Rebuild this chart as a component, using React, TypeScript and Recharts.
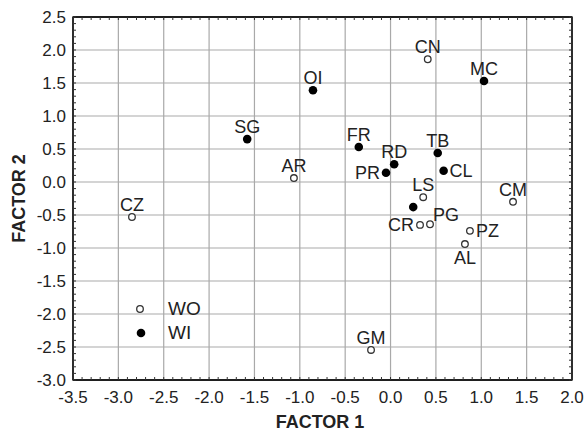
import { CartesianGrid, Label, ReferenceArea, Scatter, ScatterChart, XAxis, YAxis } from "recharts";

// WI (filled) points
const wiNames = ["OI", "MC", "SG", "FR", "RD", "PR", "TB", "CL", ""];
const wiX = [-0.855, 1.03, -1.58, -0.35, 0.04, -0.05, 0.52, 0.585, 0.25];
const wiY = [1.39, 1.53, 0.65, 0.53, 0.27, 0.14, 0.44, 0.17, -0.38];

// WO (open) points
const woNames = ["CN", "AR", "LS", "CM", "CR", "PG", "PZ", "AL", "GM", "CZ"];
const woX = [0.41, -1.065, 0.36, 1.35, 0.325, 0.435, 0.875, 0.82, -0.215, -2.85];
const woY = [1.86, 0.06, -0.23, -0.3, -0.65, -0.64, -0.74, -0.94, -2.545, -0.53];

const xTicks = [-3.5, -3.0, -2.5, -2.0, -1.5, -1.0, -0.5, 0.0, 0.5, 1.0, 1.5, 2.0];
const yTicks = [-3.0, -2.5, -2.0, -1.5, -1.0, -0.5, 0.0, 0.5, 1.0, 1.5, 2.0, 2.5];

// where each name sits relative to its marker
const labelSide: Record<string, string> = {
	PR: "left",
	CR: "left",
	CL: "right",
	PZ: "right",
	AL: "bottom",
	PG: "topright",
};

const FONT = '"Liberation Sans", Arial, sans-serif';
const INK = "#222";

const minor = (from: number, to: number) => {
	const out: number[] = [];
	for (let i = Math.round(from * 10); i <= Math.round(to * 10); i++) out.push(i / 10);
	return out;
};
const xMinor = minor(-3.5, 2.0);
const yMinor = minor(-3.0, 2.5);
const isMajor = (v: number) => Math.abs(v * 2 - Math.round(v * 2)) < 1e-6;

const toPoints = (names: string[], xs: number[], ys: number[]) =>
	names.map((name, i) => ({ name, x: xs[i], y: ys[i] }));

const wiData = toPoints(wiNames, wiX, wiY);
const woData = toPoints(woNames, woX, woY);

const PointLabel = ({ cx, cy, name }: any) => {
	if (!name) return null;
	const side = labelSide[name] || "top";
	let x = cx;
	let y = cy - 6;
	let anchor: any = "middle";
	if (side === "left") {
		x = cx - 6;
		y = cy + 6.5;
		anchor = "end";
	} else if (side === "right") {
		x = cx + 6;
		y = cy + 6.5;
		anchor = "start";
	} else if (side === "bottom") {
		y = cy + 20;
	} else if (side === "topright") {
		x = cx + 3;
		y = cy - 3;
		anchor = "start";
	}
	return (
		<text x={x} y={y} textAnchor={anchor} fontFamily={FONT} fontSize={18} fill={INK}>
			{name}
		</text>
	);
};

const FilledDot = (props: any) => (
	<g>
		<circle cx={props.cx} cy={props.cy} r={4.3} fill="#000" />
		<PointLabel cx={props.cx} cy={props.cy} name={props.payload.name} />
	</g>
);

const OpenDot = (props: any) => (
	<g>
		<circle cx={props.cx} cy={props.cy} r={3.3} fill="#fff" stroke="#333" strokeWidth={1.3} />
		<PointLabel cx={props.cx} cy={props.cy} name={props.payload.name} />
	</g>
);

const NoDot = () => <g />;

// ticks: small inward marks every 0.1, labels on the 0.5 steps
const BottomTick = ({ x, y, payload }: any) => (
	<g>
		<line x1={x} x2={x} y1={y} y2={y - 3} stroke="#333" />
		{isMajor(payload.value) && (
			<text x={x} y={y + 11} dy="0.71em" textAnchor="middle" fontFamily={FONT} fontSize={17} fill={INK}>
				{payload.value.toFixed(1)}
			</text>
		)}
	</g>
);
const LeftTick = ({ x, y, payload }: any) => (
	<g>
		<line x1={x} x2={x + 3} y1={y} y2={y} stroke="#333" />
		{isMajor(payload.value) && (
			<text x={x - 7} y={y} dy="0.36em" textAnchor="end" fontFamily={FONT} fontSize={17} fill={INK}>
				{payload.value.toFixed(1)}
			</text>
		)}
	</g>
);
const TopTick = ({ x, y }: any) => <line x1={x} x2={x} y1={y} y2={y + 3} stroke="#333" />;
const RightTick = ({ x, y }: any) => <line x1={x} x2={x - 3} y1={y} y2={y} stroke="#333" />;

const frame = { stroke: "#111", strokeWidth: 1.3 };

export default function App() {
	return (
		<div style={{ position: "fixed", left: 0, top: 0, width: 584, height: 432, background: "#fff" }}>
			<ScatterChart width={584} height={432} margin={{ top: 16, right: 11, bottom: 22, left: 23 }}>
				<CartesianGrid
					xAxisId="main"
					yAxisId="main"
					stroke="#a9a9a9"
					strokeWidth={1.2}
					verticalValues={xTicks.slice(1, -1)}
					horizontalValues={yTicks.slice(1, -1)}
				/>
				<XAxis
					xAxisId="main"
					type="number"
					dataKey="x"
					domain={[-3.5, 2.0]}
					ticks={xMinor}
					interval={0}
					tick={<BottomTick />}
					tickLine={false}
					tickSize={0}
					tickMargin={0}
					axisLine={frame}
					height={30}
					allowDataOverflow
				>
					<Label
						content={() => (
							<text x={320} y={428} textAnchor="middle" fontFamily={FONT} fontSize={18} fontWeight="bold" fill={INK}>
								FACTOR 1
							</text>
						)}
					/>
				</XAxis>
				<YAxis
					yAxisId="main"
					type="number"
					dataKey="y"
					domain={[-3.0, 2.5]}
					ticks={yMinor}
					interval={0}
					tick={<LeftTick />}
					tickLine={false}
					tickSize={0}
					tickMargin={0}
					axisLine={frame}
					width={50}
					allowDataOverflow
				>
					<Label
						content={(p: any) => {
							const vb = p.viewBox || { y: 17, height: 363 };
							const cy = vb.y + vb.height / 2;
							return (
								<text
									x={25}
									y={cy}
									transform={`rotate(-90 25 ${cy})`}
									textAnchor="middle"
									fontFamily={FONT}
									fontSize={18}
									fontWeight="bold"
									fill={INK}
								>
									FACTOR 2
								</text>
							);
						}}
					/>
				</YAxis>
				<XAxis
					xAxisId="top"
					type="number"
					dataKey="x"
					orientation="top"
					domain={[-3.5, 2.0]}
					ticks={xMinor}
					interval={0}
					tick={<TopTick />}
					tickLine={false}
					tickSize={0}
					tickMargin={0}
					axisLine={frame}
					height={1}
					allowDataOverflow
				/>
				<YAxis
					yAxisId="right"
					type="number"
					dataKey="y"
					orientation="right"
					domain={[-3.0, 2.5]}
					ticks={yMinor}
					interval={0}
					tick={<RightTick />}
					tickLine={false}
					tickSize={0}
					tickMargin={0}
					axisLine={frame}
					width={1}
					allowDataOverflow
				/>
				<ReferenceArea
					xAxisId="main"
					yAxisId="main"
					x1={-3.5}
					x2={2.0}
					y1={-3.0}
					y2={2.5}
					fill="none"
					fillOpacity={0}
					stroke="#111"
					strokeWidth={1.3}
					ifOverflow="visible"
				/>
				{/* keeps the top and right frame axes in use */}
				<Scatter xAxisId="top" yAxisId="right" data={wiData} shape={NoDot} isAnimationActive={false} legendType="none" />
				<Scatter xAxisId="main" yAxisId="main" name="WO" data={woData} shape={OpenDot} isAnimationActive={false} />
				<Scatter xAxisId="main" yAxisId="main" name="WI" data={wiData} shape={FilledDot} isAnimationActive={false} />
			</ScatterChart>
			{/* legend */}
			<div style={{ position: "absolute", left: 130, top: 297, fontFamily: FONT, fontSize: 19, color: INK, lineHeight: "24px" }}>
				<div style={{ display: "flex", alignItems: "center" }}>
					<svg width={22} height={24}>
						<circle cx={10} cy={12} r={3.3} fill="#fff" stroke="#333" strokeWidth={1.3} />
					</svg>
					<span style={{ marginLeft: 16 }}>WO</span>
				</div>
				<div style={{ display: "flex", alignItems: "center" }}>
					<svg width={22} height={24}>
						<circle cx={11} cy={12} r={4.3} fill="#000" />
					</svg>
					<span style={{ marginLeft: 16 }}>WI</span>
				</div>
			</div>
		</div>
	);
}
